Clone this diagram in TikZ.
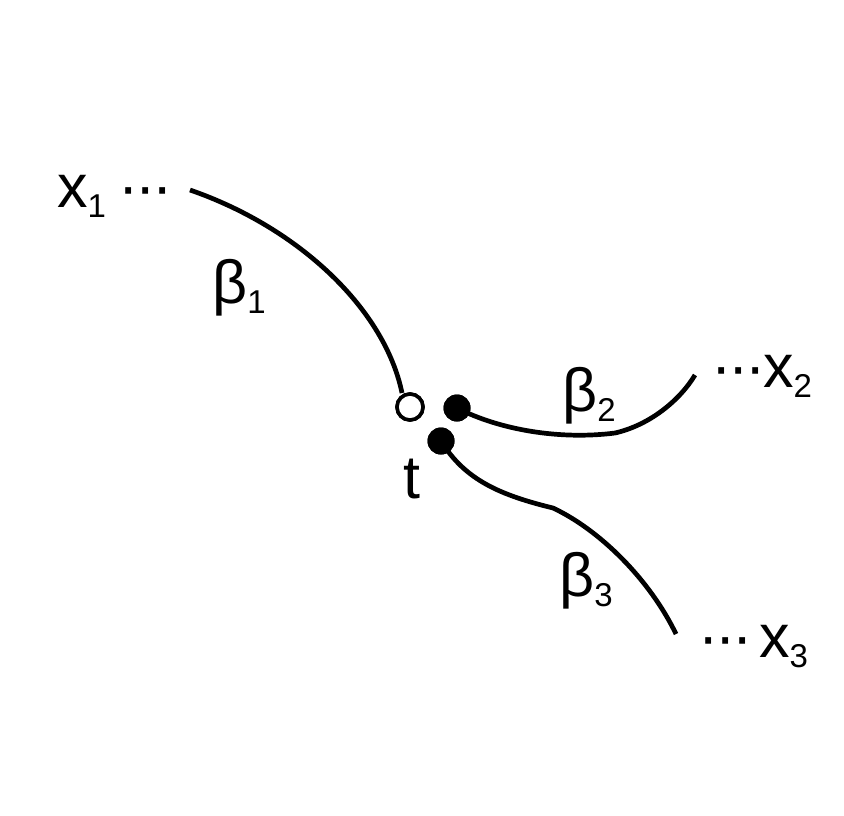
\documentclass[tikz,border=0pt]{standalone}
\usepackage{fontspec}
\setmainfont{Liberation Sans}
\newcommand\mysub[1]{\raisebox{-10pt}{\fontsize{33}{36}\selectfont #1}}
\newcommand\mydots{·\kern-3pt·\kern-3pt·}
\begin{document}
\begin{tikzpicture}[x=1pt,y=-1pt,
  lbl/.style={inner sep=0pt,anchor=base west,font=\fontsize{61}{70}\selectfont},
  curve/.style={line width=4.7pt},
  hollow/.style={circle,draw,line width=3.6pt,fill=white,minimum size=26pt,inner sep=0pt},
  solid/.style={circle,fill=black,minimum size=27pt,inner sep=0pt}]
\useasboundingbox (0,0) rectangle (844,815);
% curve ends
\coordinate (e1) at (190,190);
\coordinate (e1b) at (402,393);
\coordinate (e2) at (695,375);
\coordinate (m2) at (615,433);
\coordinate (e3) at (676,634);
\coordinate (m3) at (553,508);
\node[hollow] (ho) at (410,407) {};
\node[solid] (s1) at (457,408) {};
\node[solid] (s2) at (441,441) {};
% curves
\draw[curve] (e1) .. controls (300,228) and (385,310) .. (e1b);
\draw[curve] (s1.center) .. controls (500,430) and (560,440) .. (m2) .. controls (650,425) and (680,400) .. (e2);
\draw[curve] (s2.center) .. controls (465,480) and (500,495) .. (m3) .. controls (600,530) and (650,580) .. (e3);
\node[hollow] at (ho) {};
\node[solid] at (s1) {};
\node[solid] at (s2) {};
% labels
\node[lbl] (x1) at (57,207) {x\mysub{1}\kern12pt\mydots};
\node[lbl] (x2) at (711,387) {\mydots\kern-3pt x\mysub{2}};
\node[lbl] (x3) at (698,657) {\mydots\kern6pt x\mysub{3}};
\node[lbl] (b1) at (212,303) {β\mysub{1}};
\node[lbl] (b2) at (562,411) {β\mysub{2}};
\node[lbl] (b3) at (559,596) {β\mysub{3}};
\node[lbl] (t) at (403,498) {t};
\end{tikzpicture}
\end{document}
